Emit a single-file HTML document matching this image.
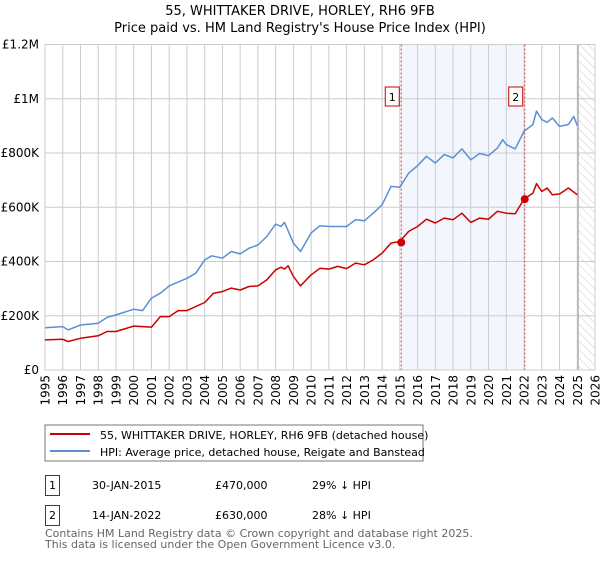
<!DOCTYPE html>
<html><head><meta charset="utf-8"><style>
body{margin:0;background:#fff;font-family:"Liberation Sans","DejaVu Sans",sans-serif;}
svg text{font-family:"DejaVu Sans","Liberation Sans",sans-serif;}
</style></head><body>
<svg id="c" width="600" height="560" xmlns="http://www.w3.org/2000/svg">
<defs><pattern id="hatch" width="6" height="6" patternUnits="userSpaceOnUse" patternTransform="rotate(-45)"><line x1="0" y1="0" x2="0" y2="6" stroke="#ccc" stroke-width="1"/></pattern></defs>
<text x="300" y="15" text-anchor="middle" font-size="13">55, WHITTAKER DRIVE, HORLEY, RH6 9FB</text>
<text x="300" y="32" text-anchor="middle" font-size="13">Price paid vs. HM Land Registry's House Price Index (HPI)</text>
<g id="plot"></g>
<rect x="45" y="425" width="378" height="36" fill="#fff" stroke="#777"/>
<line x1="50" y1="434" x2="90" y2="434" stroke="#cc0000" stroke-width="2"/>
<text x="100" y="439" font-size="11">55, WHITTAKER DRIVE, HORLEY, RH6 9FB (detached house)</text>
<line x1="50" y1="451" x2="90" y2="451" stroke="#5b8fd4" stroke-width="2"/>
<text x="100" y="456" font-size="11">HPI: Average price, detached house, Reigate and Banstead</text>
<g font-size="11">
<rect x="45.5" y="475.5" width="14" height="20" fill="none" stroke="#cc0000"/>
<text x="52.5" y="489" text-anchor="middle">1</text>
<text x="92" y="489">30-JAN-2015</text><text x="215" y="489">£470,000</text><text x="312" y="489">29% ↓ HPI</text>
<rect x="45.5" y="505.5" width="14" height="20" fill="none" stroke="#cc0000"/>
<text x="52.5" y="519" text-anchor="middle">2</text>
<text x="92" y="519">14-JAN-2022</text><text x="215" y="519">£630,000</text><text x="312" y="519">28% ↓ HPI</text>
</g>
<text x="45" y="537" font-size="11" fill="#666">Contains HM Land Registry data © Crown copyright and database right 2025.</text>
<text x="45" y="548" font-size="11" fill="#666">This data is licensed under the Open Government Licence v3.0.</text>
</svg>
<script>
const hpiYears=[1995,1996,1996.3,1997,1998,1998.5,1999,2000,2000.5,2001,2001.5,2002,2003,2003.5,2004,2004.4,2005,2005.5,2006,2006.5,2007,2007.5,2008,2008.3,2008.5,2009,2009.4,2010,2010.5,2011,2011.5,2012,2012.5,2013,2013.5,2014,2014.5,2015,2015.5,2016,2016.5,2017,2017.5,2018,2018.5,2019,2019.5,2020,2020.5,2020.8,2021,2021.5,2022,2022.5,2022.7,2023,2023.3,2023.6,2024,2024.5,2024.8,2025];
const hpiValues=[156,160,148,166,172,194,203,224,219,265,283,310,338,357,406,421,412,437,428,449,461,492,538,529,544,468,437,505,532,529,529,529,554,550,578,609,677,674,726,753,788,763,794,782,815,775,798,790,818,849,831,815,880,905,954,923,913,929,898,905,935,901];
const priceYears=[1995,1996,1996.3,1997,1998,1998.5,1999,2000,2001,2001.5,2002,2002.5,2003,2004,2004.5,2005,2005.5,2006,2006.5,2007,2007.5,2008,2008.3,2008.5,2008.7,2009,2009.4,2010,2010.5,2011,2011.5,2012,2012.5,2013,2013.5,2014,2014.5,2015,2015.5,2016,2016.5,2017,2017.5,2018,2018.5,2019,2019.5,2020,2020.5,2021,2021.5,2022,2022.5,2022.7,2023,2023.3,2023.6,2024,2024.5,2025];
const priceValues=[111,113,105,117,126,142,142,162,158,197,197,219,219,249,283,289,302,295,308,310,332,369,379,372,384,345,310,351,375,372,382,374,394,388,406,431,468,474,511,529,556,542,560,554,578,544,560,556,585,578,576,630,652,687,658,671,646,649,671,646];
const saleYears=[2015.08,2022.04];
const saleValues=[470,630];
const saleLabels=["1","2"];
const yTicks=[0,200,400,600,800,1000,1200];
const yTickLabels=["£0","£200K","£400K","£600K","£800K","£1M","£1.2M"];
const xTicks=[1995,1996,1997,1998,1999,2000,2001,2002,2003,2004,2005,2006,2007,2008,2009,2010,2011,2012,2013,2014,2015,2016,2017,2018,2019,2020,2021,2022,2023,2024,2025,2026];

const L=45,R=595,T=44.5,B=370,x0=1995,x1=2026,yMax=1200,dataEnd=2025.05;
const X=v=>L+(v-x0)/(x1-x0)*(R-L);
const Y=v=>B-v/yMax*(B-T);
const NS="http://www.w3.org/2000/svg";
const g=document.getElementById('plot');
function mk(t,a,p){const e=document.createElementNS(NS,t);for(const k in a)e.setAttribute(k,a[k]);(p||g).appendChild(e);return e;}

const shade=mk('rect',{x:X(saleYears[0]),y:T,width:X(saleYears[1])-X(saleYears[0]),height:B-T,fill:'#eef3fc',opacity:0.7});


const hat=mk('rect',{x:X(dataEnd),y:T,width:R-X(dataEnd),height:B-T,fill:'url(#hatch)'});



xTicks.forEach(t=>{
  const l=mk('line',{x1:X(t),x2:X(t),y1:T,y2:B,stroke:'#ccc','stroke-width':1});
  
  
  const tx=mk('text',{x:0,y:0,'text-anchor':'end','font-size':12,transform:'translate('+(X(t)+4.5)+','+(B+5)+') rotate(-90)'});
  tx.textContent=t;
  
  
});
yTicks.forEach((t,i)=>{
  const l=mk('line',{x1:L,x2:R,y1:Y(t),y2:Y(t),stroke:'#ccc','stroke-width':1});
  
  
  const tx=mk('text',{x:L-6,y:Y(t)+4,'text-anchor':'end','font-size':12});
  tx.textContent=yTickLabels[i];
  
  
});
const endl=mk('line',{x1:X(dataEnd),x2:X(dataEnd),y1:T,y2:B,stroke:'#999','stroke-width':1});


const frame=mk('rect',{x:L,y:T,width:R-L,height:B-T,fill:'none',stroke:'#ccc'});



saleYears.forEach((s,i)=>{
  const l=mk('line',{x1:X(s),x2:X(s),y1:T,y2:B,stroke:'#dd4444','stroke-dasharray':'2,2','stroke-width':1});
  
  
});

function path(xs,ys,color,name){
  const d=xs.map((v,i)=>(i?'L':'M')+X(v).toFixed(1)+','+Y(ys[i]).toFixed(1)).join('');
  const p=mk('path',{d:d,fill:'none',stroke:color,'stroke-width':1.5,'stroke-linejoin':'round'});
  
  
}
path(hpiYears,hpiValues,'#5b8fd4','hpi-line');
path(priceYears,priceValues,'#cc0000','price-paid-line');

saleYears.forEach((s,i)=>{
  const c=mk('circle',{cx:X(s),cy:Y(saleValues[i]),r:4,fill:'#cc0000'});
  
  
  const bx=mk('rect',{x:X(s)-16,y:87,width:14,height:19,fill:'#fff',stroke:'#cc0000'});
  
  
  const t=mk('text',{x:X(s)-9,y:101,'text-anchor':'middle','font-size':11});
  t.textContent=saleLabels[i];
  
  
});
</script>
</body></html>
